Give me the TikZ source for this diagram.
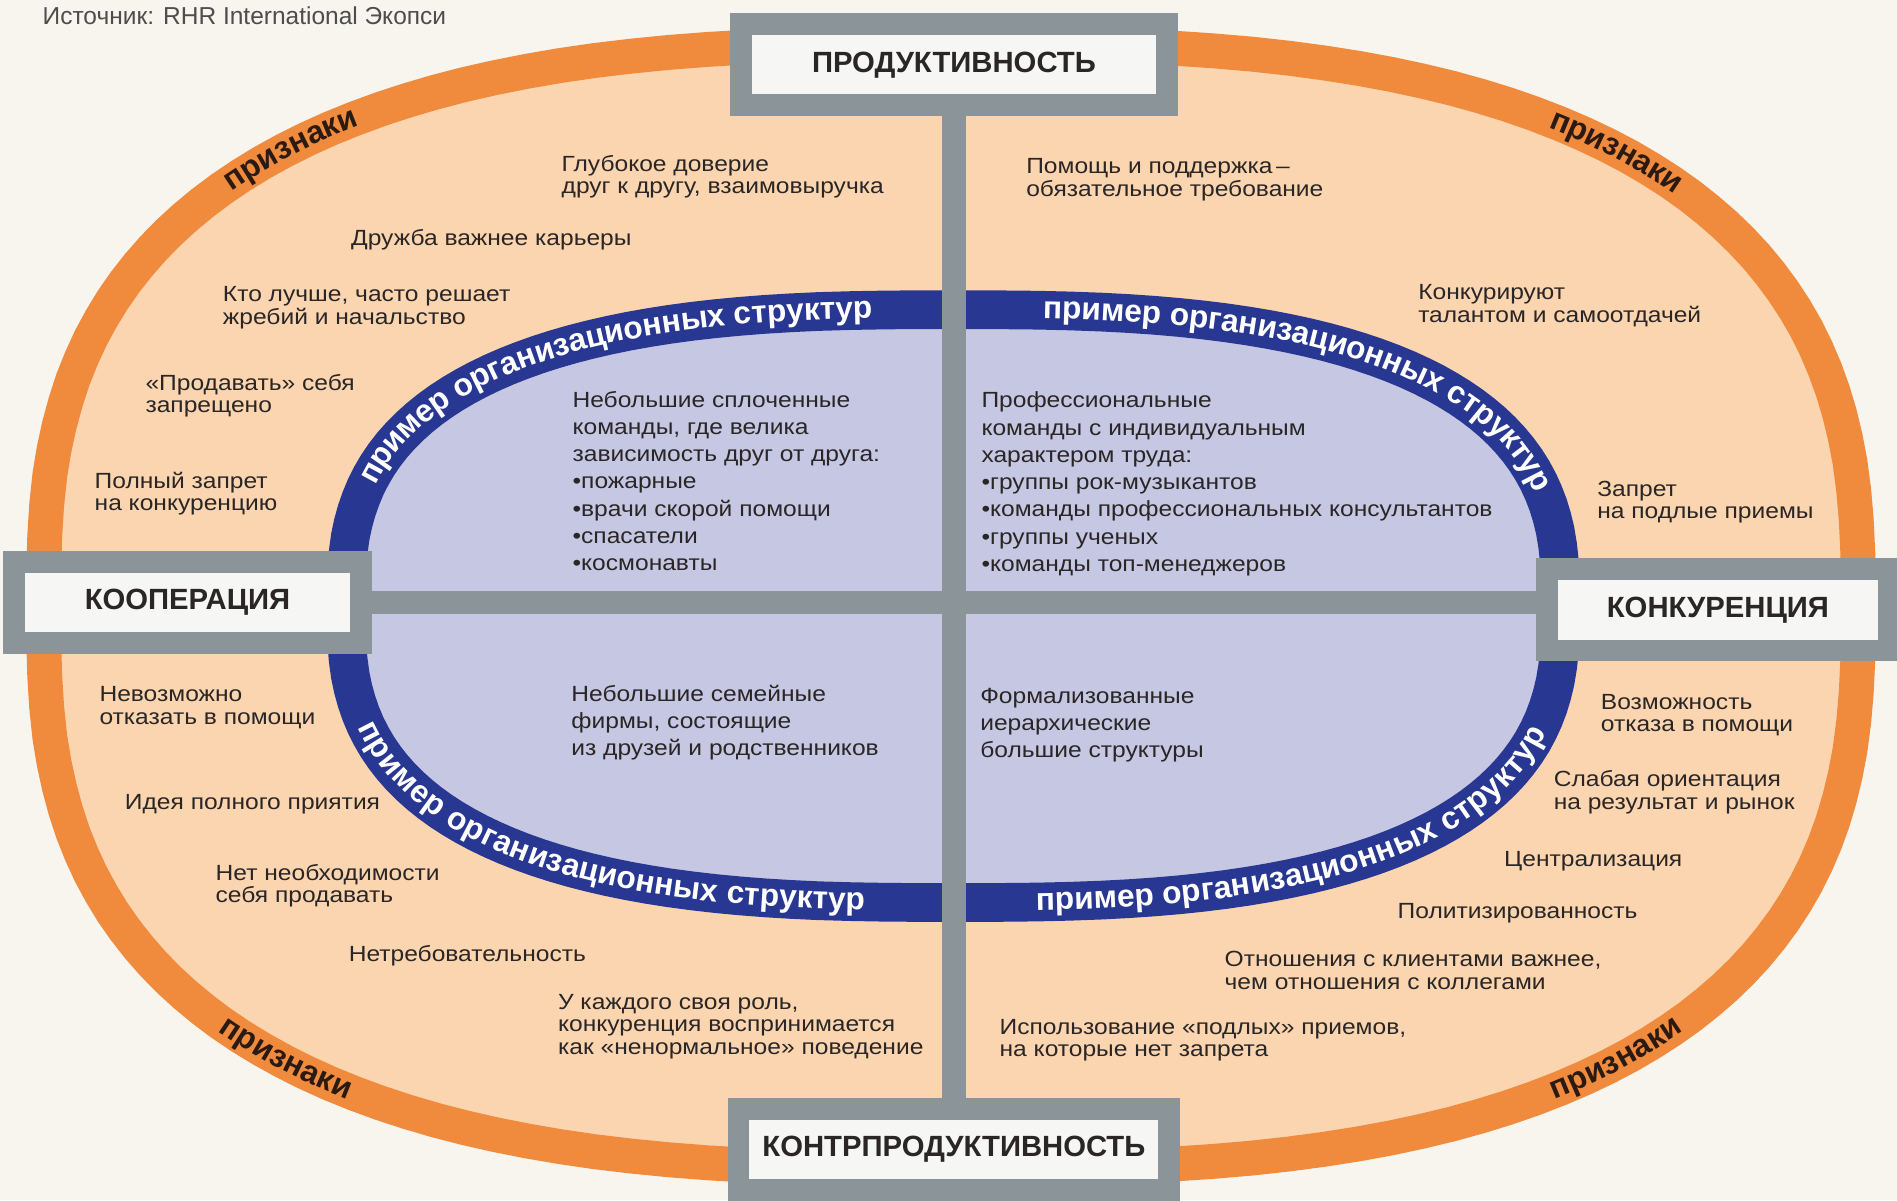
\documentclass[tikz,border=0pt]{standalone}
\usepackage{fontspec}
\setmainfont{Liberation Sans}
\newfontfamily\widefont[FakeStretch=1.12]{Liberation Sans}
\usetikzlibrary{decorations.text}

\definecolor{paper}{HTML}{F8F4EE}
\definecolor{peach}{HTML}{FAD5B0}
\definecolor{ringorange}{HTML}{F08A3C}
\definecolor{lavender}{HTML}{C6C7E3}
\definecolor{ringblue}{HTML}{283791}
\definecolor{axisgray}{HTML}{8A9499}
\definecolor{boxwhite}{HTML}{F6F6F4}
\definecolor{ink}{HTML}{2A2626}
\definecolor{signink}{HTML}{2A1A12}
\definecolor{srcgray}{HTML}{4D4D4D}

\newcommand{\bandfont}{\fontsize{18.6}{18.6}\selectfont\bfseries}
% superellipse: centre x, centre y, half axes, exponent 2/n, from, to
\newcommand{\ovalplot}[7]{plot[domain=#6:#7, samples=160]
  ({#1+#3*sign(cos(\x))*(abs(cos(\x))+0.00001)^#5},
   {#2+#4*sign(sin(\x))*(abs(sin(\x))+0.00001)^#5})}

\pgfdeclarelayer{backdrop}
\pgfdeclarelayer{bars}
\pgfsetlayers{backdrop,bars,main}

\tikzset{
    peachtext/.style = {anchor=west, inner sep=0pt, align=left, text=ink,
        font={\widefont\fontsize{12.9}{13.2}\selectfont\lineskiplimit=-20pt}},
    lavtext/.style = {peachtext,
        font={\widefont\fontsize{12.9}{16}\selectfont\lineskiplimit=-20pt}},
    axisbox/.style = {draw=axisgray, line width=0.45cm, fill=boxwhite, minimum height=1.68cm,
        text=ink, font=\fontsize{17.2}{17.2}\selectfont\bfseries},
    axisbar/.style = {draw=axisgray, line width=0.49cm},
    signtext/.style = {decorate, decoration={text along path, text={|\bandfont|признаки},
        text align=center, raise=-4.8pt, text color=signink}},
    sampletext/.style = {decorate, decoration={text along path,
        text={|\bandfont|пример организационных структур},
        text align=#1, raise=-4.8pt, text color=white}}
}

\begin{document}
\begin{tikzpicture}[x=0.025cm, y=0.025cm]
\begin{pgfonlayer}{backdrop}
  \fill[paper] (0,0) rectangle (1568,992);
  % outer ring
  \fill[peach] \ovalplot{786}{491}{750}{465}{0.74}{0}{360} -- cycle;
  \draw[ringorange, line width=0.72cm] \ovalplot{786}{491}{750}{465}{0.74}{0}{360} -- cycle;
  % inner ring
  \fill[lavender] \ovalplot{788}{491}{502}{245}{0.741}{0}{360} -- cycle;
  \draw[ringblue, line width=0.8cm] \ovalplot{788}{491}{502}{245}{0.741}{0}{360} -- cycle;
\end{pgfonlayer}
\useasboundingbox (0,0) rectangle (1568,992);

% axes
\node[axisbox, minimum width=8.8cm] (prod) at (788.5,938.5) {ПРОДУКТИВНОСТЬ};
\node[axisbox, minimum width=8.9cm] (contra) at (788.5,42) {КОНТРПРОДУКТИВНОСТЬ};
\node[axisbox, minimum width=7.16cm] (coop) at (155,494) {КООПЕРАЦИЯ};
\node[axisbox, minimum width=7.06cm] (comp) at (1420,488) {КОНКУРЕНЦИЯ};
\begin{pgfonlayer}{bars}
  \draw[axisbar] (prod) -- (contra);
  \draw[axisbar] (coop.east) -- (coop.east -| comp.west);
\end{pgfonlayer}

\node[anchor=west, inner sep=0pt, text=srcgray, font=\fontsize{14.4}{14.4}\selectfont]
  (source) at (35,979) {Источник: RHR International Экопси};

% signs, cooperation side
\node[peachtext] (trust) at (464,846) {Глубокое доверие\\друг к другу, взаимовыручка};
\node[peachtext] (friend) at (290,794) {Дружба важнее карьеры};
\node[peachtext] (lot) at (184,737.5) {Кто лучше, часто решает\\жребий и начальство};
\node[peachtext] (sell) at (120,665) {«Продавать» себя\\запрещено};
\node[peachtext] (ban) at (78,584) {Полный запрет\\на конкуренцию};
\node[peachtext] (refuse) at (82,407) {Невозможно\\отказать в помощи};
\node[peachtext] (accept) at (103,327) {Идея полного приятия};
\node[peachtext] (nosell) at (178,260) {Нет необходимости\\себя продавать};
\node[peachtext] (lax) at (288,202) {Нетребовательность};
\node[peachtext] (roles) at (461,143.5) {У каждого своя роль,\\конкуренция воспринимается\\как «ненормальное» поведение};

% signs, competition side
\node[peachtext] (help) at (848,843.5) {Помощь и поддержка\,–\\обязательное требование};
\node[peachtext] (talent) at (1172,739.5) {Конкурируют\\талантом и самоотдачей};
\node[peachtext] (foul) at (1320,577) {Запрет\\на подлые приемы};
\node[peachtext] (canrefuse) at (1323,401) {Возможность\\отказа в помощи};
\node[peachtext] (weak) at (1284,337) {Слабая ориентация\\на результат и рынок};
\node[peachtext] (central) at (1243,280) {Централизация};
\node[peachtext] (politics) at (1155,237) {Политизированность};
\node[peachtext] (clients) at (1012,190) {Отношения с клиентами важнее,\\чем отношения с коллегами};
\node[peachtext] (tricks) at (826,132) {Использование «подлых» приемов,\\на которые нет запрета};

% samples
\node[lavtext] (teamsa) at (473,594.5) {Небольшие сплоченные\\команды, где велика\\зависимость друг от друга:\\•пожарные\\•врачи скорой помощи\\•спасатели\\•космонавты};
\node[lavtext] (teamsb) at (811,592) {Профессиональные\\команды с индивидуальным\\характером труда:\\•группы рок-музыкантов\\•команды профессиональных консультантов\\•группы ученых\\•команды топ-менеджеров};
\node[lavtext] (family) at (472,394.5) {Небольшие семейные\\фирмы, состоящие\\из друзей и родственников};
\node[lavtext] (formal) at (810,392.5) {Формализованные\\иерархические\\большие структуры};

% band labels
\path[signtext] \ovalplot{786}{491}{750}{465}{0.74}{157.5}{109.5};
\path[signtext] \ovalplot{786}{491}{750}{465}{0.74}{70}{22};
\path[signtext] \ovalplot{786}{491}{750}{465}{0.74}{202}{250};
\path[signtext] \ovalplot{786}{491}{750}{465}{0.74}{290}{338};
\path[sampletext=right] \ovalplot{788}{491}{502}{245}{0.741}{178}{93.7};
\path[sampletext=left] \ovalplot{788}{491}{502}{245}{0.741}{85.7}{2};
\path[sampletext=right] \ovalplot{788}{491}{502}{245}{0.741}{182}{265.8};
\path[sampletext=left] \ovalplot{788}{491}{502}{245}{0.741}{273.8}{358};
\end{tikzpicture}
\end{document}
